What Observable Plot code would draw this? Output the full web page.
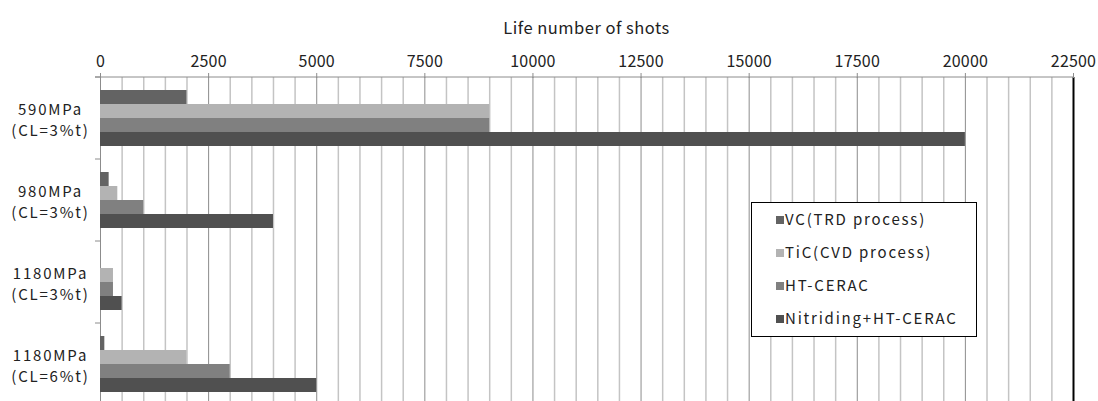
<!DOCTYPE html>
<html>
<head>
<meta charset="utf-8">
<script src="https://cdn.jsdelivr.net/npm/d3@7"></script>
<script src="https://cdn.jsdelivr.net/npm/@observablehq/plot@0.6"></script>
<style>
html, body { margin: 0; padding: 0; background: #fff; overflow: hidden; }
#wrap { position: relative; width: 1098px; height: 401px; overflow: hidden; }
#legend { position: absolute; left: 751px; top: 202px; width: 226px; height: 135px; border: 1.5px solid #000; background: #fff;
  font-family: "Noto Sans CJK JP", "Noto Sans", sans-serif; font-size: 15px; color: #222; box-sizing: border-box; letter-spacing: 1.8px; }
#legend .item { position: absolute; left: 24px; height: 20px; line-height: 20px; white-space: nowrap; }
#legend .sw { display: inline-block; width: 8px; height: 8px; margin-right: 1px; vertical-align: 1px; }
g[aria-label="x-axis tick label"] text { letter-spacing: 0.2px; }
g[aria-label="text"] text { letter-spacing: 1.8px; }
text.title { letter-spacing: 0.5px; }
</style>
</head>
<body>
<div id="wrap"></div>
<script>
// ---- data ----
const categories = ["590MPa\n(CL=3%t)", "980MPa\n(CL=3%t)", "1180MPa\n(CL=3%t)", "1180MPa\n(CL=6%t)"];
const series = ["VC(TRD process)", "TiC(CVD process)", "HT-CERAC", "Nitriding+HT-CERAC"];
const colors = ["#636363", "#b3b3b3", "#808080", "#505050"];
const vcValues = [2000, 200, 0, 100];
const ticValues = [9000, 400, 300, 2000];
const htValues = [9000, 1000, 300, 3000];
const nitridingValues = [20000, 4000, 500, 5000];
const xTicks = [0, 2500, 5000, 7500, 10000, 12500, 15000, 17500, 20000, 22500];
const xTitle = "Life number of shots";

const seriesValues = [vcValues, ticValues, htValues, nitridingValues];
const rows = [];
categories.forEach((c, i) => series.forEach((s, j) => rows.push({cat: c, series: s, value: seriesValues[j][i]})));
const minorGrid = d3.range(0, 22500, 500).filter(v => v % 2500 !== 0);

const chart = Plot.plot({
  width: 1098, height: 406,
  marginTop: 75, marginLeft: 100, marginRight: 25, marginBottom: 0,
  style: {fontFamily: '"Noto Sans CJK JP", "Noto Sans", sans-serif', fontSize: "16px", background: "#fff", overflow: "visible"},
  x: {domain: [0, 22500], axis: null},
  y: {domain: series, paddingInner: 0, paddingOuter: 0.79, axis: null},
  fy: {domain: categories, padding: 0, axis: null},
  color: {domain: series, range: colors},
  marks: [
    Plot.ruleX(minorGrid, {stroke: "#c4c4c4", strokeWidth: 1.5}),
    Plot.ruleX(xTicks.slice(0, -1), {stroke: "#8c8c8c", strokeWidth: 1}),
    Plot.ruleX(xTicks.slice(-1), {stroke: "#000", strokeWidth: 2}),
    Plot.barX(rows, {fy: "cat", y: "series", x: "value", fill: "series"}),
    Plot.axisX({anchor: "top", ticks: xTicks, tickSize: 5, tickPadding: 6, stroke: "#8c8c8c", fill: "#222",
      fontSize: 16, tickFormat: d => String(d), label: null, facetAnchor: "top"}),
    Plot.text(categories, {fy: d => d, text: d => d, frameAnchor: "left", dx: -50, textAnchor: "middle",
      lineHeight: 1.45, fontSize: 15, fill: "#222"})
  ]
});

const wrap = document.getElementById("wrap");
wrap.appendChild(chart);

// axis line + boundary ticks from the library's scales
const sx = chart.scale("x"), sfy = chart.scale("fy");
const svg = d3.select(chart);
const x0 = sx.apply(0), x1 = sx.apply(22500);
const tops = categories.map(c => sfy.apply(c));
tops.push(tops[tops.length - 1] + sfy.bandwidth);
const g = svg.append("g").attr("stroke", "#8c8c8c").attr("stroke-width", 1);
g.append("line").attr("x1", x0 - 5).attr("x2", x1).attr("y1", tops[0]).attr("y2", tops[0]);
tops.forEach(t => g.append("line").attr("x1", x0 - 5).attr("x2", x0).attr("y1", t).attr("y2", t));
svg.append("text").attr("class", "title").attr("x", (x0 + x1) / 2).attr("y", 28).attr("text-anchor", "middle").attr("dy", "0.35em")
  .attr("font-size", 16.5).attr("fill", "#222").text(xTitle);

// legend
const legend = document.createElement("div");
legend.id = "legend";
series.forEach((s, i) => {
  const it = document.createElement("div");
  it.className = "item";
  it.style.top = (6 + i * 33) + "px";
  it.innerHTML = `<span class="sw" style="background:${colors[i]}"></span>${s}`;
  legend.appendChild(it);
});
wrap.appendChild(legend);
</script>
</body>
</html>
